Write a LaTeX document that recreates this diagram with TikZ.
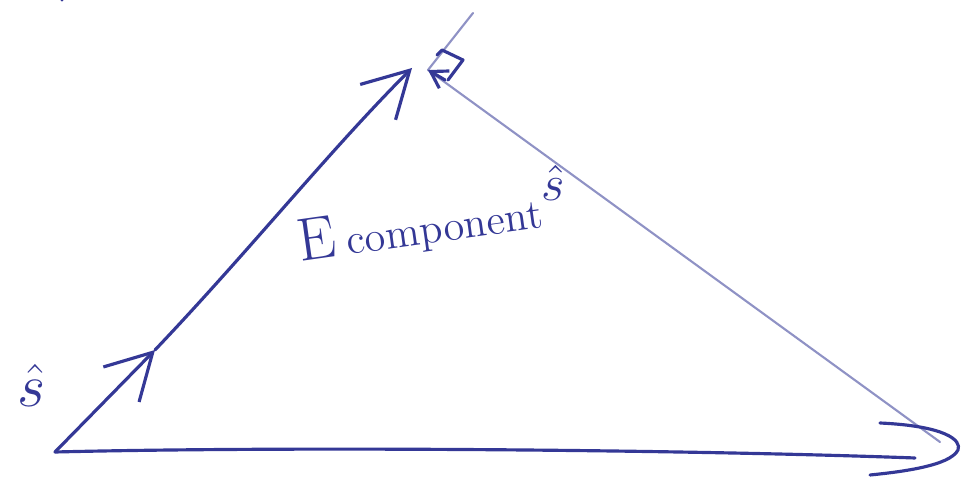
\documentclass[tikz,border=0pt]{standalone}
\usepackage{amsmath,amssymb}
\usetikzlibrary{arrows.meta,positioning,calc}
\definecolor{ink}{RGB}{52,56,150}

\begin{document}
\begin{tikzpicture}[x=0.01cm, y=-0.01cm,
    pen/.style={draw=ink, line width=0.9pt, line cap=round, line join=round},
    faint/.style={draw=ink!55, line width=0.6pt, line cap=round},
    barb/.style={-{Straight Barb[length=4.5mm, width=5mm, line width=0.9pt]}},
    label/.style={text=ink, font=\LARGE, inner sep=1pt}
]
    \useasboundingbox (0,0) rectangle (969,479);

    % Corners of the triangle
    \coordinate (left) at (55,452);
    \coordinate (mid) at (155,350);
    \coordinate (apex) at (412,68);
    \coordinate (apexR) at (428,70);
    \coordinate (right) at (940,442);
    \coordinate (bottom) at (915,458);
    \coordinate (ext) at (473,13);

    % Left side with the two arrows
    \draw[pen, barb] (left) -- (mid);
    \draw[pen, barb] (mid) .. controls (250,250) and (330,150) .. (apex);

    % Right side and bottom
    \draw[faint] (apexR) -- (right);
    \draw[pen] (left) .. controls (300,446) and (700,450) .. (bottom);
    \draw[pen] (880,423) .. controls (945,426) and (962,440) .. (958,450)
               .. controls (950,466) and (900,472) .. (870,475);

    % Right angle at the top
    \draw[faint] (apexR) -- (ext);
    \draw[pen, -{Straight Barb[length=1.6mm, width=2mm, line width=0.9pt]}] (445,80) -- (apexR);
    \draw[pen] (437,55) -- (442,50) -- (463,60) -- (448,80);

    % Small mark at the top left
    \draw[pen] (62,0) arc[start angle=170, end angle=230, radius=10];

    % Labels
    \node[label] (shat) at (32,385) {$\hat{s}$};
    \node[label, rotate=8] (ecomp) at (420,228) {E\,{\large component}};
    \node[label, font=\Large] (shat2) at (553,183) {$\hat{s}$};
\end{tikzpicture}
\end{document}
